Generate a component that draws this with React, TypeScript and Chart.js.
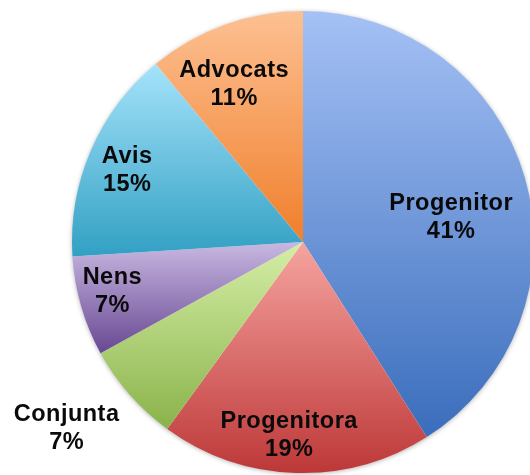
import React, { useEffect, useRef } from "react";
import { Chart, registerables } from "chart.js";

Chart.register(...registerables);

const categories = ["Progenitor", "Progenitora", "Conjunta", "Nens", "Avis", "Advocats"];
const values = [41, 19, 7, 7, 15, 11];
const topColors = ["#a5c1f5", "#f6a4a0", "#d5eea6", "#c9b8e2", "#a5e3fb", "#fdc092"];
const bottomColors = ["#3a6dbc", "#bd3838", "#8ab34b", "#684892", "#32a0c3", "#f07f2b"];
// label placement tweak: extra angle (deg) from slice middle, radial fraction of radius
const labelAngleShift = [6.2, 2.4, 3.4, 2.1, -0.9, -3.7];
const labelRadius = [0.65, 0.833, 1.3, 0.852, 0.825, 0.75];

const total = values.reduce((a, b) => a + b, 0);

function sliceGradient(context: any) {
  const chart = context.chart;
  const i = context.dataIndex;
  const area = chart.chartArea;
  if (!area) return bottomColors[i];
  const cx = (area.left + area.right) / 2;
  const cy = (area.top + area.bottom) / 2;
  const meta = chart.getDatasetMeta(0);
  const r = (meta && meta.controller && meta.controller.outerRadius) || Math.min(area.right - area.left, area.bottom - area.top) / 2;
  let before = 0;
  for (let k = 0; k < i; k++) before += values[k];
  const start = -Math.PI / 2 + (2 * Math.PI * before) / total;
  const end = start + (2 * Math.PI * values[i]) / total;
  const ys = [cy, cy + r * Math.sin(start), cy + r * Math.sin(end)];
  for (let k = -1; k <= 2; k++) {
    const top = -Math.PI / 2 + 2 * Math.PI * k;
    const bot = Math.PI / 2 + 2 * Math.PI * k;
    if (top > start && top < end) ys.push(cy - r);
    if (bot > start && bot < end) ys.push(cy + r);
  }
  const y0 = Math.min(...ys);
  const y1 = Math.max(...ys);
  const g = chart.ctx.createLinearGradient(0, y0, 0, y1 > y0 ? y1 : y0 + 1);
  g.addColorStop(0, topColors[i]);
  g.addColorStop(1, bottomColors[i]);
  return g;
}

const shadowPlugin = {
  id: "pieShadow",
  beforeDatasetsDraw(chart: any) {
    const meta = chart.getDatasetMeta(0);
    const arc = meta.data[0];
    if (!arc) return;
    const { x, y, outerRadius } = arc.getProps(["x", "y", "outerRadius"], true);
    const ctx = chart.ctx;
    ctx.save();
    ctx.shadowColor = "rgba(0,0,0,0.35)";
    ctx.shadowBlur = 5;
    ctx.shadowOffsetX = 0;
    ctx.shadowOffsetY = 1;
    ctx.beginPath();
    ctx.arc(x, y, outerRadius - 0.5, 0, Math.PI * 2);
    ctx.fillStyle = "#ffffff";
    ctx.fill();
    ctx.restore();
  },
};

const labelPlugin = {
  id: "sliceLabels",
  afterDatasetsDraw(chart: any) {
    const meta = chart.getDatasetMeta(0);
    const ctx = chart.ctx;
    ctx.save();
    ctx.font = "bold 23.5px 'Liberation Sans', Arial, sans-serif";
    try {
      (ctx as any).letterSpacing = "0.5px";
    } catch (e) {}
    ctx.fillStyle = "#0a0a0a";
    ctx.textAlign = "center";
    ctx.textBaseline = "alphabetic";
    meta.data.forEach((arc: any, i: number) => {
      const p = arc.getProps(["x", "y", "startAngle", "endAngle", "outerRadius"], true);
      const mid = (p.startAngle + p.endAngle) / 2 + (labelAngleShift[i] * Math.PI) / 180;
      const d = labelRadius[i] * p.outerRadius;
      const lx = p.x + Math.cos(mid) * d + 0.25;
      const ly = p.y + Math.sin(mid) * d;
      const pct = Math.round((values[i] / total) * 100) + "%";
      ctx.fillText(categories[i], lx, ly - 14 + 8.3);
      ctx.fillText(pct, lx, ly + 14 + 8.3);
    });
    ctx.restore();
  },
};

export default function App() {
  const canvasRef = useRef<HTMLCanvasElement | null>(null);

  useEffect(() => {
    document.body.style.margin = "0";
    document.body.style.overflow = "hidden";
    const canvas = canvasRef.current;
    if (!canvas) return;
    const chart = new Chart(canvas, {
      type: "pie",
      data: {
        labels: categories,
        datasets: [
          {
            data: values,
            backgroundColor: sliceGradient as any,
            borderWidth: 0,
            hoverOffset: 0,
            offset: 0,
          },
        ],
      },
      options: {
        responsive: false,
        animation: false,
        events: [],
        layout: { padding: { left: 72, right: 6, top: 11, bottom: 7 } },
        plugins: {
          legend: { display: false },
          tooltip: { enabled: false },
        },
      },
      plugins: [shadowPlugin, labelPlugin],
    });
    return () => chart.destroy();
  }, []);

  return (
    <div style={{ position: "fixed", left: 0, top: 0, width: 530, height: 475, overflow: "hidden", background: "#ffffff" }}>
      <canvas ref={canvasRef} width={540} height={480} style={{ display: "block", width: 540, height: 480 }} />
    </div>
  );
}
